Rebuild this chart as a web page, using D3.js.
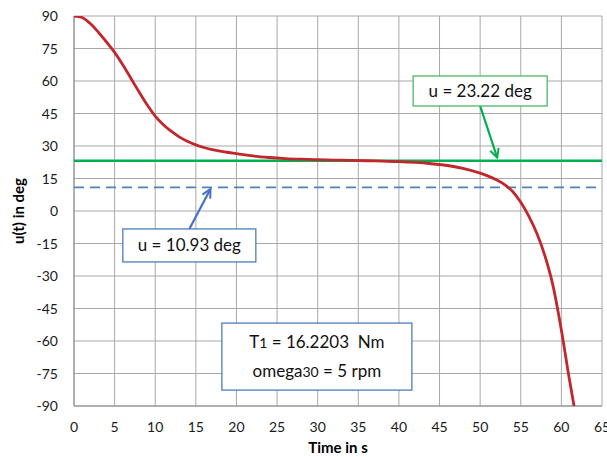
<!DOCTYPE html>
<html>
<head>
<meta charset="utf-8">
<script src="https://cdn.jsdelivr.net/npm/d3@7"></script>
<style>
  body { margin: 0; background: #fff; }
  svg { font-family: Lato, "Open Sans", sans-serif; }
</style>
</head>
<body>
<div id="chart"></div>
<script>
// u(t) response
const timeS = [0, 1, 2, 3, 4, 5, 6, 7, 8, 9, 10, 11, 12, 13, 14, 15, 16, 17, 18, 19, 20,
  22, 24, 26, 28, 30, 32, 34, 36, 38, 40, 42, 44, 46, 48, 50, 51, 52, 53, 54, 55,
  56, 57, 58, 59, 60, 61, 61.7];
const uDeg = [90, 89.3, 86.5, 82.5, 78, 73.2, 67.5, 61.3, 55, 49, 43.8, 39.8, 36.7, 34.1, 32.1, 30.5, 29.3, 28.3, 27.6, 27.0, 26.5,
  25.4, 24.7, 24.2, 23.9, 23.7, 23.5, 23.4, 23.2, 23.0, 22.8, 22.4, 21.8, 21.0, 19.6, 17.5, 16.1, 14.4, 12.2, 9.0, 4.0,
  -2.5, -10.5, -21, -35, -55, -78, -93];

const uUpper = 23.22;
const uLower = 10.93;

const xTicks = d3.range(0, 66, 5);
const yTicks = d3.range(-90, 91, 15);

const width = 607, height = 457;
const margin = { left: 74, right: 5, top: 16, bottom: 51 };

const x = d3.scaleLinear().domain([0, 65]).range([margin.left, width - margin.right]);
const y = d3.scaleLinear().domain([-90, 90]).range([height - margin.bottom, margin.top]);

const svg = d3.select("#chart").append("svg")
    .attr("width", width).attr("height", height);

const defs = svg.append("defs");
defs.append("clipPath").attr("id", "plotClip")
  .append("rect")
    .attr("x", x(0)).attr("y", y(90))
    .attr("width", x(65) - x(0)).attr("height", y(-90) - y(90));

[["arrowGreen", "#00b050"], ["arrowBlue", "#4472c4"]].forEach(([id, col]) => {
  defs.append("marker")
      .attr("id", id)
      .attr("viewBox", "0 0 10 10").attr("refX", 9).attr("refY", 5)
      .attr("markerWidth", 5).attr("markerHeight", 5).attr("orient", "auto")
      .attr("markerUnits", "strokeWidth")
    .append("path")
      .attr("d", "M1,1L9,5L1,9")
      .attr("fill", "none").attr("stroke", col).attr("stroke-width", 1.8)
      .attr("stroke-linejoin", "miter");
});

// --- GRID ---
const grid = svg.append("g").attr("class", "grid");
grid.selectAll("line.v").data(xTicks).join("line")
    .attr("class", "v")
    .attr("x1", d => x(d)).attr("x2", d => x(d))
    .attr("y1", y(90)).attr("y2", y(-90))
    .attr("stroke", "#a8a8a8").attr("stroke-width", 1);
grid.selectAll("line.h").data(yTicks).join("line")
    .attr("class", "h")
    .attr("x1", x(0)).attr("x2", x(65))
    .attr("y1", d => y(d)).attr("y2", d => y(d))
    .attr("stroke", "#a8a8a8").attr("stroke-width", 1);

// axis lines
svg.append("line")
    .attr("x1", x(0)).attr("x2", x(0)).attr("y1", y(90)).attr("y2", y(-90))
    .attr("stroke", "#8c8c8c");
svg.append("line")
    .attr("x1", x(0)).attr("x2", x(65)).attr("y1", y(-90)).attr("y2", y(-90))
    .attr("stroke", "#8c8c8c");

// --- TICK LABELS ---
svg.append("g").selectAll("text").data(yTicks).join("text")
    .attr("x", margin.left - 16).attr("y", d => y(d) + 5)
    .attr("text-anchor", "end").attr("font-size", 14).attr("fill", "#1a1a1a")
    .text(d => d);
svg.append("g").selectAll("text").data(xTicks).join("text")
    .attr("x", d => x(d)).attr("y", y(-90) + 26)
    .attr("text-anchor", "middle").attr("font-size", 14).attr("fill", "#1a1a1a")
    .text(d => d);

// axis titles
svg.append("text")
    .attr("x", (x(0) + x(65)) / 2).attr("y", height - 4)
    .attr("text-anchor", "middle").attr("font-size", 15).attr("font-weight", "bold")
    .text("Time in s");
svg.append("text")
    .attr("transform", `translate(24,${(y(90) + y(-90)) / 2}) rotate(-90)`)
    .attr("text-anchor", "middle").attr("font-size", 15).attr("font-weight", "bold")
    .text("u(t) in deg");

// --- REFERENCE LINES ---
const plot = svg.append("g").attr("clip-path", "url(#plotClip)");
plot.append("line")
    .attr("x1", x(0)).attr("x2", x(65)).attr("y1", y(uLower)).attr("y2", y(uLower))
    .attr("stroke", "#4f81bd").attr("stroke-width", 1.8).attr("stroke-dasharray", "10,6");
plot.append("line")
    .attr("x1", x(0)).attr("x2", x(65)).attr("y1", y(uUpper)).attr("y2", y(uUpper))
    .attr("stroke", "#00b050").attr("stroke-width", 2.5);

// --- CURVE ---
const line = d3.line()
    .x((d, i) => x(timeS[i]))
    .y(d => y(d))
    .curve(d3.curveMonotoneX);
plot.append("path")
    .datum(uDeg)
    .attr("d", line)
    .attr("fill", "none").attr("stroke", "#c1272d").attr("stroke-width", 2.8);

// --- ANNOTATIONS ---
function labelBox(cx, cy, w, h, border) {
  return svg.append("rect")
      .attr("x", x(cx) - w / 2).attr("y", y(cy) - h / 2)
      .attr("width", w).attr("height", h)
      .attr("fill", "#fff").attr("stroke", border).attr("stroke-width", 1.3);
}

// green: u = 23.22 deg
svg.append("line")
    .attr("x1", x(50.0)).attr("y1", y(48.5)).attr("x2", x(52.1)).attr("y2", y(24.6))
    .attr("stroke", "#00b050").attr("stroke-width", 2.2).attr("marker-end", "url(#arrowGreen)");
labelBox(50.0, 55.4, 134, 30, "#4cb86a");
svg.append("text")
    .attr("x", x(50.0)).attr("y", y(55.4) + 6)
    .attr("text-anchor", "middle").attr("font-size", 17).attr("fill", "#111")
    .text(`u = ${uUpper.toFixed(2)} deg`);

// blue: u = 10.93 deg
svg.append("line")
    .attr("x1", x(14.2)).attr("y1", y(-8.3)).attr("x2", x(16.8)).attr("y2", y(10.2))
    .attr("stroke", "#4472c4").attr("stroke-width", 2.2).attr("marker-end", "url(#arrowBlue)");
labelBox(14.2, -15.9, 133, 33, "#4a7ebb");
svg.append("text")
    .attr("x", x(14.2)).attr("y", y(-15.9) + 6)
    .attr("text-anchor", "middle").attr("font-size", 17).attr("fill", "#111")
    .text(`u = ${uLower.toFixed(2)} deg`);

// parameters box
labelBox(29.9, -67.2, 190, 67, "#4a7ebb");
const p1 = svg.append("text")
    .attr("x", x(29.9)).attr("y", y(-67.2) - 9)
    .attr("text-anchor", "middle").attr("font-size", 17).attr("fill", "#111");
p1.append("tspan").text("T");
p1.append("tspan").attr("font-size", 14).text("1");
p1.append("tspan").text(" = 16.2203\u00a0 Nm");
const p2 = svg.append("text")
    .attr("x", x(29.9)).attr("y", y(-67.2) + 20)
    .attr("text-anchor", "middle").attr("font-size", 17).attr("fill", "#111");
p2.append("tspan").text("omega");
p2.append("tspan").attr("font-size", 14).text("30");
p2.append("tspan").text(" = 5 rpm");
</script>
</body>
</html>
